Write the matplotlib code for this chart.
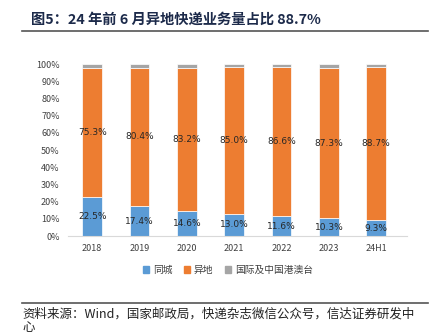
import matplotlib
matplotlib.use("Agg")
from matplotlib import pyplot as plt
from matplotlib.patches import Patch

plt.rcParams['font.family'] = ['Noto Sans CJK SC', 'DejaVu Sans']

years = ["2018", "2019", "2020", "2021", "2022", "2023", "24H1"]
local = [22.5, 17.4, 14.6, 13.0, 11.6, 10.3, 9.3]
remote = [75.3, 80.4, 83.2, 85.0, 86.6, 87.3, 88.7]
intl = [2.2, 2.2, 2.2, 2.0, 1.8, 2.4, 2.0]
names = ["同城", "异地", "国际及中国港澳台"]
colors = ["#5B9BD5", "#ED7D31", "#A5A5A5"]

fig = plt.figure(figsize=(4.41, 3.33), dpi=100)

# title + rule
fig.text(31/441, 1-20/333, "图5：24 年前 6 月异地快递业务量占比 88.7%",
         fontsize=10.3, fontweight="bold", color="#1C2A4A", va="center", ha="left")
fig.add_artist(plt.Line2D([22/441, 428/441], [1-31/333, 1-31/333], color="#555555", lw=1.2))

ax = fig.add_axes([68/441, 1-236/333, (407-68)/441, (236-64)/333])
x = range(len(years))
w = 0.42
bottom2 = [a + b for a, b in zip(local, remote)]
ax.bar(x, local, w, color=colors[0], edgecolor="white", linewidth=0.5)
ax.bar(x, remote, w, bottom=local, color=colors[1], edgecolor="white", linewidth=0.5)
ax.bar(x, intl, w, bottom=bottom2, color=colors[2], edgecolor="white", linewidth=0.5)

for i in x:
    ax.text(i, local[i] / 2, f"{local[i]:.1f}%", ha="center", va="center",
            fontsize=6.5, color="#262626", family="DejaVu Sans")
    ax.text(i, local[i] + remote[i] / 2, f"{remote[i]:.1f}%", ha="center", va="center",
            fontsize=6.5, color="#262626", family="DejaVu Sans")

ax.set_xlim(-0.51, 6.65)
ax.set_ylim(0, 100)
ax.set_yticks(range(0, 101, 10))
ax.set_yticklabels([f"{v}%" for v in range(0, 101, 10)])
ax.set_xticks(list(x))
ax.set_xticklabels(years)
ax.tick_params(length=0, labelsize=6.5, labelcolor="#404040", pad=6)
for s in ["top", "right", "left"]:
    ax.spines[s].set_visible(False)
ax.spines["bottom"].set_color("#D9D9D9")

handles = [Patch(color=c) for c in colors]
fig.legend(handles, names, loc="center", bbox_to_anchor=(228/441, 1-270/333), ncol=3,
           frameon=False, fontsize=7, handlelength=0.6, handleheight=0.6,
           handletextpad=0.4, columnspacing=1.2, labelcolor="#404040")

fig.add_artist(plt.Line2D([22/441, 428/441], [1-303/333, 1-303/333], color="#555555", lw=1.2))
fig.text(22/441, 1-314/333, "资料来源：Wind，国家邮政局，快递杂志微信公众号，信达证券研发中",
         fontsize=9, style="italic", color="#222222", va="center", ha="left")
fig.text(22/441, 1-328/333, "心", fontsize=9, style="italic", color="#222222",
         va="center", ha="left")

fig.savefig("out.png", dpi=100)
